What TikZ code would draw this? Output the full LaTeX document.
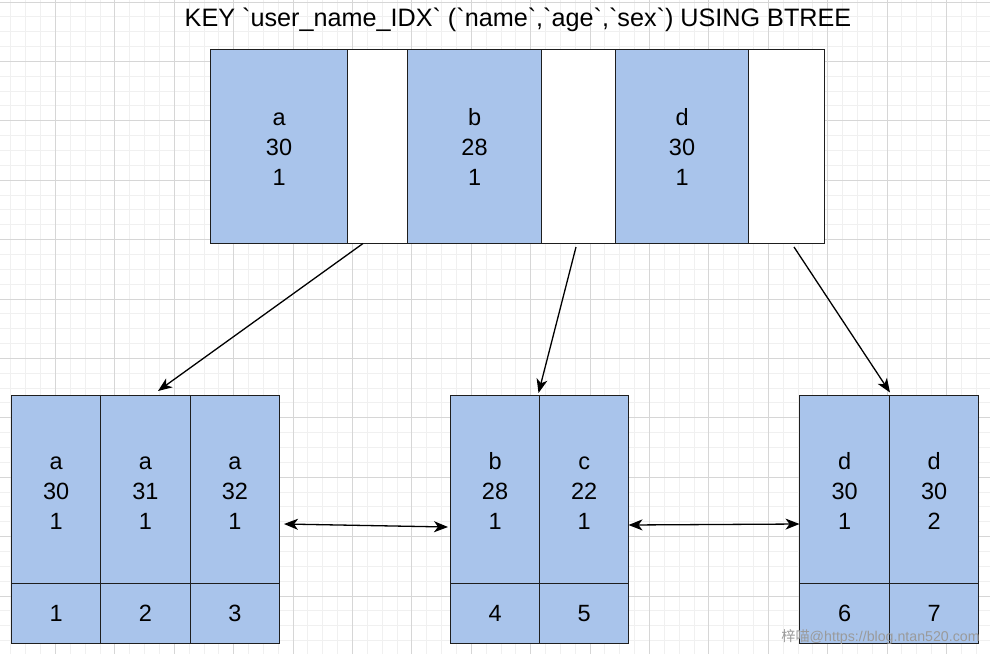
\documentclass[tikz,border=0pt]{standalone}
\usepackage{fontspec}
\setmainfont{Liberation Sans}
\newfontfamily\cjkfont{Noto Sans CJK SC}
\usetikzlibrary{arrows.meta}
\definecolor{cellblue}{HTML}{A9C4EB}
\definecolor{gridmajor}{HTML}{D6D6D6}
\definecolor{gridminor}{HTML}{F0F0F0}
\definecolor{edgecol}{HTML}{1E1E1E}
\definecolor{wmark}{HTML}{9A9A9A}
\newcommand{\bq}{\XeTeXglyph\XeTeXcharglyph"60\relax}
\newcommand{\cstrut}{\rule[-0.18\baselineskip]{0pt}{\baselineskip}}
\newcommand{\lns}[3]{\cstrut #1\\\cstrut #2\\\cstrut #3}
\begin{document}
\begin{tikzpicture}[x=1pt,y=-1pt,
  txt/.style={font=\fontsize{23.5}{30}\selectfont},
  cellbox/.style 2 args={draw=edgecol, line width=1.1pt, fill=cellblue, anchor=north west,
    inner sep=0pt, align=center, minimum width=#1pt, minimum height=#2pt, txt},
  framebox/.style 2 args={draw=edgecol, line width=1.1pt, fill=white, anchor=north west,
    inner sep=0pt, minimum width=#1pt, minimum height=#2pt},
  link/.style={draw=black, line width=1.3pt, -{Stealth[length=14pt,width=11pt,inset=4pt]}},
  dlink/.style={draw=black, line width=1.3pt, {Stealth[length=14pt,width=11pt,inset=4pt]}-{Stealth[length=14pt,width=11pt,inset=4pt]}},
  minorline/.style={draw=gridminor, line width=1pt},
  majorline/.style={draw=gridmajor, line width=1pt}]

\useasboundingbox (0,0) rectangle (990,654);
\fill[white] (0,0) rectangle (990,654);

% grid
\foreach \i in {0,...,70}{
  \draw[minorline] ({-3.9+\i*14.85},0) -- ({-3.9+\i*14.85},654);
}
\foreach \i in {-2,...,45}{
  \draw[minorline] (0,{2+\i*14.85}) -- (990,{2+\i*14.85});
}
\foreach \i in {0,...,17}{
  \draw[majorline] ({-3.9+\i*59.4},0) -- ({-3.9+\i*59.4},654);
}
\foreach \i in {0,...,11}{
  \draw[majorline] (0,{2+\i*59.4}) -- (990,{2+\i*59.4});
}

% title
\node[inner sep=0pt, font=\fontsize{25.2}{29}\selectfont] (title) at (518,20) {KEY \bq user\_name\_IDX\bq{} (\bq name\bq,\bq age\bq,\bq sex\bq) USING BTREE};

% top node
\node[framebox={613.5}{193.5}] (top) at (210,49) {};
\node[cellbox={137}{193.5}] (t1) at (210,49) {\lns{a}{30}{1}};
\node[cellbox={134}{193.5}] (t2) at (407,49) {\lns{b}{28}{1}};
\node[cellbox={133}{193.5}] (t3) at (615,49) {\lns{d}{30}{1}};

% bottom-left leaf
\node[cellbox={89.3}{188.6}] (L1) at (11,394.7) {\lns{a}{30}{1}};
\node[cellbox={89.3}{188.6}] (L2) at (100.3,394.7) {\lns{a}{31}{1}};
\node[cellbox={89.4}{188.6}] (L3) at (189.6,394.7) {\lns{a}{32}{1}};
\node[cellbox={89.3}{59.4}] (L1b) at (11,583.3) {1};
\node[cellbox={89.3}{59.4}] (L2b) at (100.3,583.3) {2};
\node[cellbox={89.4}{59.4}] (L3b) at (189.6,583.3) {3};

% middle leaf
\node[cellbox={89}{188.6}] (M1) at (450,394.7) {\lns{b}{28}{1}};
\node[cellbox={89.3}{188.6}] (M2) at (539,394.7) {\lns{c}{22}{1}};
\node[cellbox={89}{59.4}] (M1b) at (450,583.3) {4};
\node[cellbox={89.3}{59.4}] (M2b) at (539,583.3) {5};

% right leaf
\node[cellbox={89.7}{188.6}] (R1) at (799.3,394.7) {\lns{d}{30}{1}};
\node[cellbox={89.3}{188.6}] (R2) at (889,394.7) {\lns{d}{30}{2}};
\node[cellbox={89.7}{59.4}] (R1b) at (799.3,583.3) {6};
\node[cellbox={89.3}{59.4}] (R2b) at (889,583.3) {7};

% connector end points
\coordinate (s1) at (363,243.5);
\coordinate (e1) at (158,391);
\coordinate (s2) at (576,247);
\coordinate (e2) at (538.5,393);
\coordinate (s3) at (794,247);
\coordinate (e3) at (890,392.5);
\coordinate (h1a) at (284,524);
\coordinate (h1b) at (448,527);
\coordinate (h2a) at (628.5,525);
\coordinate (h2b) at (799.5,524);

\draw[link] (s1) -- (e1);
\draw[link] (s2) -- (e2);
\draw[link] (s3) -- (e3);
\draw[dlink] (h1a) -- (h1b);
\draw[dlink] (h2a) -- (h2b);

% watermark
\node[text=wmark, inner sep=0pt, anchor=center, font=\fontsize{14.2}{16}\selectfont] (wm) at (880.5,636.5) {{\cjkfont 梓喵}@https://blog.ntan520.com};
\end{tikzpicture}
\end{document}
